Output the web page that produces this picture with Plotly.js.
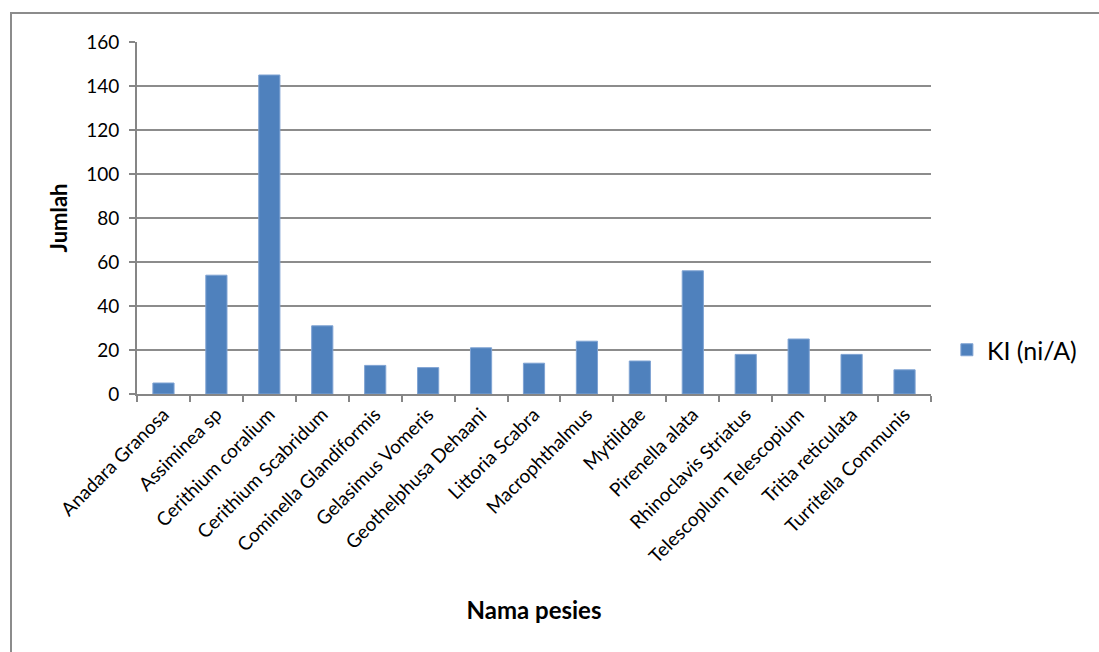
<!DOCTYPE html>
<html>
<head>
<meta charset="utf-8">
<script src="https://cdn.plot.ly/plotly-3.0.1.min.js"></script>
<style>
html,body{margin:0;padding:0;background:#fff;overflow:hidden;}
#frame{position:absolute;left:10px;top:12px;width:1200px;height:800px;border:2px solid #8c8c8c;box-sizing:border-box;pointer-events:none;z-index:5;}
#chart{position:absolute;left:0;top:0;width:1099px;height:652px;}
</style>
</head>
<body>
<div id="chart"></div>
<div id="frame"></div>
<script>
const categories = [
  "Anadara Granosa","Assiminea sp","Cerithium coralium","Cerithium Scabridum",
  "Cominella Glandiformis","Gelasimus Vomeris","Geothelphusa Dehaani","Littoria Scabra",
  "Macrophthalmus","Mytilidae","Pirenella alata","Rhinoclavis Striatus",
  "Telescoplum Telescopium","Tritia reticulata","Turritella Communis"
];
const kiValues = [5, 54, 145, 31, 13, 12, 21, 14, 24, 15, 56, 18, 25, 18, 11];
const seriesName = "KI (ni/A)";
const yTicks = [0, 20, 40, 60, 80, 100, 120, 140, 160];

const font = "Lato, 'Open Sans', sans-serif";

Plotly.newPlot("chart", [{
  type: "bar",
  x: categories,
  y: kiValues,
  name: seriesName,
  marker: {color: "#4f81bd", line: {color: "#7fa3d3", width: 1}},
  showlegend: true
}], {
  width: 1099, height: 652,
  margin: {l: 137, r: 168, t: 42, b: 258},
  paper_bgcolor: "#fff", plot_bgcolor: "#fff",
  bargap: 0.6,
  font: {family: font, size: 19, color: "#000"},
  xaxis: {
    type: "category",
    tickangle: -45,
    ticks: "outside", tickson: "boundaries", ticklen: 6, tickcolor: "#868686", tickwidth: 2,
    showline: true, linecolor: "#868686", linewidth: 2,
    showgrid: false,
    tickfont: {family: font, size: 19, color: "#000"},
    title: {text: "Nama pesies", font: {family: font, size: 24, color: "#000", weight: "bold"}, standoff: 36},
    automargin: false
  },
  yaxis: {
    range: [0, 160],
    tickvals: yTicks,
    ticks: "outside", ticklen: 6, tickcolor: "#868686", tickwidth: 2,
    ticklabelstandoff: 6,
    showline: true, linecolor: "#868686", linewidth: 2,
    showgrid: true, gridcolor: "#8c8c8c", gridwidth: 1.5,
    zeroline: false,
    tickfont: {family: font, size: 19, color: "#000"},
    title: {text: "Jumlah", font: {family: font, size: 22, color: "#000", weight: "bold"}, standoff: 12},
    automargin: false
  },
  legend: {
    x: 1.02, y: 0.125, xanchor: "left", yanchor: "middle",
    font: {family: font, size: 25, color: "#000"},
    bgcolor: "rgba(0,0,0,0)"
  }
}, {displayModeBar: false, staticPlot: true});
</script>
</body>
</html>
